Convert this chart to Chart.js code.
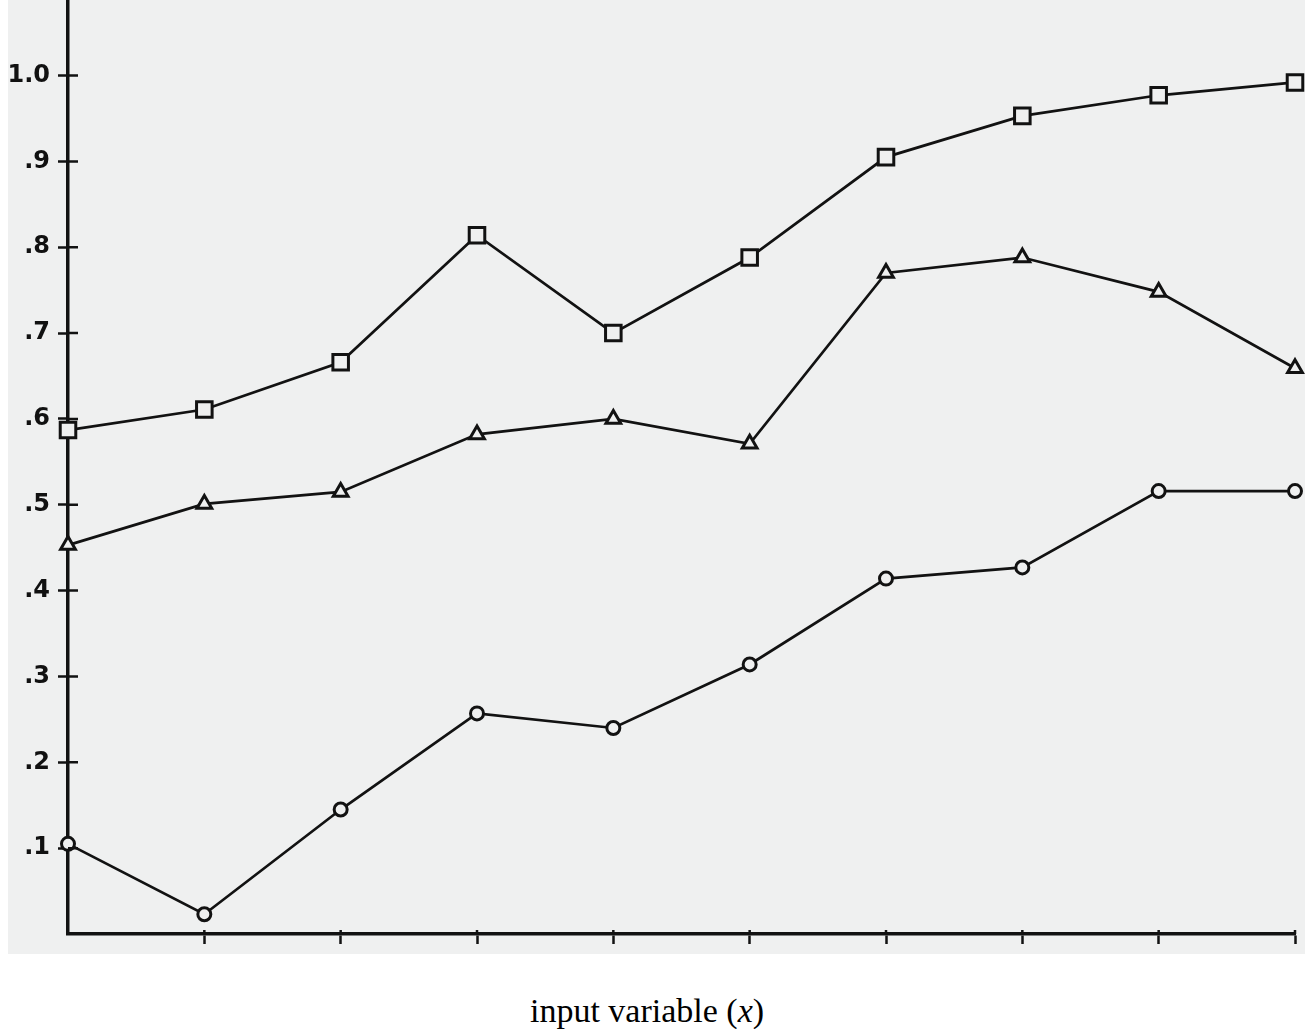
<!DOCTYPE html>
<html>
<head>
<meta charset="utf-8">
<script src="https://cdn.jsdelivr.net/npm/chart.js@4.4.0/dist/chart.umd.min.js"></script>
<style>
    html, body { margin: 0; padding: 0; background: #ffffff; }
    #wrap { position: relative; width: 1305px; height: 1029px; }
    #plot { position: absolute; left: 0; top: 0; width: 1305px; height: 954px; }
    #xlabel {
        position: absolute; left: 0; top: 994px; width: 1294px;
        text-align: center; font-family: 'Liberation Serif', serif;
        font-size: 34px; line-height: 34px; color: #000;
    }
</style>
</head>
<body>
<div id="wrap">
    <div id="plot"><canvas id="myChart"></canvas></div>
    <div id="xlabel">input variable (<i>x</i>)</div>
</div>
<script>
// x positions (0 = on the y axis)
var xValues = [0, 1, 2, 3, 4, 5, 6, 7, 8, 9];
var xTicks = [1, 2, 3, 4, 5, 6, 7, 8, 9];
var yTicks = [0.1, 0.2, 0.3, 0.4, 0.5, 0.6, 0.7, 0.8, 0.9, 1.0];

// squares (top curve)
var squareValues = [0.587, 0.611, 0.666, 0.814, 0.700, 0.788, 0.905, 0.953, 0.977, 0.992];
// triangles (middle curve)
var triangleValues = [0.453, 0.501, 0.515, 0.582, 0.600, 0.571, 0.770, 0.788, 0.748, 0.659];
// circles (bottom curve)
var circleValues = [0.105, 0.023, 0.145, 0.257, 0.240, 0.314, 0.414, 0.427, 0.516, 0.516];

var paper = '#eff0f0';
var ink = '#121212';

function toPoints(values) {
    var list = [];
    for (var i = 0; i < values.length; i++) {
        list.push({ x: xValues[i], y: values[i] });
    }
    return list;
}

function makeSet(label, values, style, radius) {
    return {
        label: label,
        data: toPoints(values),
        clip: false,
        borderColor: ink,
        borderWidth: 2.7,
        pointStyle: style,
        pointRadius: radius,
        pointBorderWidth: 3,
        pointBorderColor: ink,
        pointBackgroundColor: paper,
        tension: 0
    };
}

// gray scanned page behind the plot
var paperPlugin = {
    id: 'paper',
    beforeDraw: function (chart) {
        var c = chart.ctx;
        c.save();
        c.fillStyle = paper;
        c.fillRect(8, 0, chart.width - 8, chart.height);
        c.restore();
    }
};

// tick marks crossing into the plot area
var crossTicks = {
    id: 'crossTicks',
    afterDraw: function (chart) {
        var c = chart.ctx;
        var xs = chart.scales.x;
        var ys = chart.scales.y;
        var area = chart.chartArea;
        c.save();
        c.strokeStyle = ink;
        c.lineWidth = 2.5;
        c.beginPath();
        for (var i = 0; i < yTicks.length; i++) {
            var py = ys.getPixelForValue(yTicks[i]);
            c.moveTo(area.left, py);
            c.lineTo(area.left + 10, py);
        }
        for (var j = 0; j < xTicks.length; j++) {
            var px = xs.getPixelForValue(xTicks[j]);
            c.moveTo(px, area.bottom);
            c.lineTo(px, area.bottom - 4);
        }
        c.stroke();
        c.restore();
    }
};

const ctx = document.getElementById('myChart').getContext('2d');
const chart = new Chart(ctx, {
    type: 'line',
    data: {
        datasets: [
            makeSet('squares', squareValues, 'rect', 11),
            makeSet('triangles', triangleValues, 'triangle', 8.5),
            makeSet('circles', circleValues, 'circle', 6.5)
        ]
    },
    options: {
        responsive: true,
        maintainAspectRatio: false,
        animation: false,
        layout: { autoPadding: false, padding: { left: 0, right: 10, top: 0, bottom: 0 } },
        plugins: {
            legend: { display: false },
            tooltip: { enabled: false }
        },
        scales: {
            x: {
                type: 'linear',
                min: 0,
                max: 9,
                afterBuildTicks: function (scale) {
                    scale.ticks = xTicks.map(function (v) { return { value: v }; });
                },
                afterFit: function (scale) {
                    scale.height = 20;
                    scale.paddingLeft = 0;
                    scale.paddingRight = 0;
                },
                ticks: { display: false },
                grid: {
                    drawOnChartArea: false,
                    drawTicks: true,
                    tickLength: 10,
                    tickWidth: 2.5,
                    color: ink
                },
                border: { display: true, color: ink, width: 3.5 }
            },
            y: {
                min: 0,
                max: 1.088,
                afterBuildTicks: function (scale) {
                    scale.ticks = yTicks.map(function (v) { return { value: v }; });
                },
                afterFit: function (scale) {
                    scale.width = 68;
                    scale.paddingTop = 0;
                    scale.paddingBottom = 0;
                },
                ticks: {
                    color: '#111111',
                    padding: 8,
                    font: { family: 'DejaVu Sans', size: 24, weight: 'bold' },
                    callback: function (value) {
                        if (value >= 0.999) return '1.0';
                        return '.' + Math.round(value * 10);
                    }
                },
                grid: {
                    drawOnChartArea: false,
                    drawTicks: true,
                    tickLength: 10,
                    tickWidth: 2.5,
                    color: ink
                },
                border: { display: true, color: ink, width: 3.5 }
            }
        }
    },
    plugins: [paperPlugin, crossTicks]
});
</script>
</body>
</html>
